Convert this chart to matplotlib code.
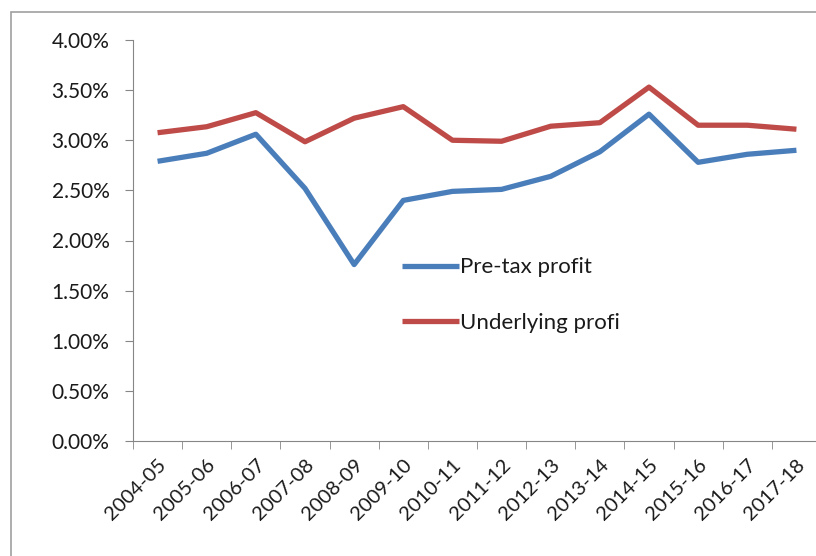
import numpy as np
import matplotlib.pyplot as plt
from matplotlib.ticker import PercentFormatter
from matplotlib.patches import Rectangle

years = ['2004-05', '2005-06', '2006-07', '2007-08', '2008-09', '2009-10', '2010-11',
         '2011-12', '2012-13', '2013-14', '2014-15', '2015-16', '2016-17', '2017-18']
pretax = [2.79, 2.87, 3.06, 2.52, 1.76, 2.40, 2.49, 2.51, 2.64, 2.885, 3.26, 2.78, 2.86, 2.90]
underlying = [3.075, 3.135, 3.275, 2.985, 3.22, 3.335, 3.00, 2.99, 3.14, 3.175, 3.53, 3.15, 3.15, 3.11]

plt.rcParams['font.family'] = ['Lato', 'DejaVu Sans']
plt.rcParams['text.color'] = '#1a1a1a'

fig = plt.figure(figsize=(8.16, 5.56), dpi=100)
# outer chart frame (cropped on right and bottom)
fig.patches.append(Rectangle((11 / 816, -0.05), 1.2, 1 - 12 / 556 + 0.05, transform=fig.transFigure,
                             fill=False, edgecolor='#a0a0a0', linewidth=1.2))
ax = fig.add_axes([133 / 816, 1 - 441 / 556, 688 / 816, 401 / 556])

x = np.arange(len(years))
ax.plot(x, pretax, color='#4a7ebb', linewidth=3.8, label='Pre-tax profit', solid_capstyle='butt')
ax.plot(x, underlying, color='#be4b48', linewidth=3.8, label='Underlying profi', solid_capstyle='butt')

ax.set_xlim(-0.5, len(years) - 0.5)
ax.set_ylim(0, 4)
ax.set_yticks(np.arange(0, 4.01, 0.5))
ax.yaxis.set_major_formatter(PercentFormatter(decimals=2))

ax.set_xticks(x)
ax.set_xticklabels(years, rotation=45, ha='right', rotation_mode='anchor')
ax.set_xticks(np.arange(-0.5, len(years), 1), minor=True)
ax.tick_params(axis='x', which='major', length=0, pad=11, labelsize=14.5, labelcolor='#1a1a1a')
ax.tick_params(axis='x', which='minor', length=6, color='#868686', direction='out')
ax.tick_params(axis='y', length=6, color='#868686', labelsize=15, pad=11, labelcolor='#1a1a1a')

for s in ['top', 'right']:
    ax.spines[s].set_visible(False)
for s in ['left', 'bottom']:
    ax.spines[s].set_color('#868686')

ax.legend(loc='upper left', bbox_to_anchor=(0.378, 0.48), frameon=False, fontsize=16,
          handlelength=2.55, handletextpad=0.05, labelspacing=1.6, borderaxespad=0)

plt.savefig('out.png', dpi=100)
